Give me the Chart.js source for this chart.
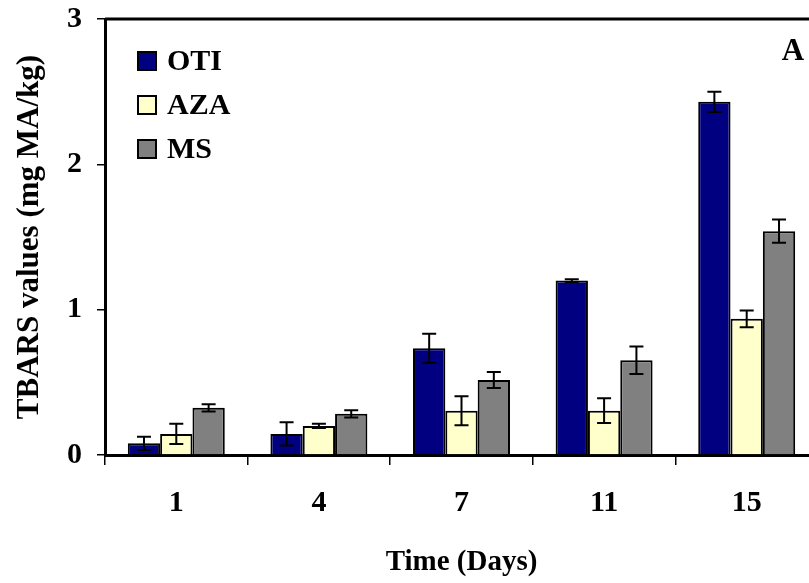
<!DOCTYPE html>
<html>
<head>
<meta charset="utf-8">
<script src="https://cdn.jsdelivr.net/npm/chart.js@4/dist/chart.umd.min.js"></script>
<style>
  html, body { margin: 0; padding: 0; overflow: hidden; background: #fff; }
  #wrap { position: absolute; left: 0; top: 0; width: 830px; height: 583px; }
</style>
</head>
<body>
<div id="wrap"><canvas id="c" width="830" height="583"></canvas></div>
<script>
const categories = ['1', '4', '7', '11', '15'];
const seriesNames = ['OTI', 'AZA', 'MS'];
const otiValues = [0.08, 0.145, 0.735, 1.20, 2.43];
const otiErrors = [0.045, 0.08, 0.10, 0.01, 0.07];
const azaValues = [0.145, 0.20, 0.305, 0.305, 0.937];
const azaErrors = [0.07, 0.015, 0.10, 0.085, 0.058];
const msValues = [0.325, 0.283, 0.516, 0.652, 1.54];
const msErrors = [0.025, 0.025, 0.055, 0.094, 0.08];
const yTicks = [0, 1, 2, 3];

const FONT = "'Liberation Serif', 'Times New Roman', serif";

const errorBars = {
  id: 'errorBars',
  afterDatasetsDraw(chart) {
    const ctx = chart.ctx;
    const y = chart.scales.y;
    ctx.save();
    ctx.strokeStyle = '#000';
    ctx.lineWidth = 2;
    chart.data.datasets.forEach((ds, i) => {
      const meta = chart.getDatasetMeta(i);
      meta.data.forEach((bar, j) => {
        const v = ds.data[j], e = ds.errors[j];
        const yt = y.getPixelForValue(v + e);
        const yb = y.getPixelForValue(v - e);
        const x = bar.x, hw = 7;
        ctx.beginPath();
        ctx.moveTo(x, yt); ctx.lineTo(x, yb);
        ctx.moveTo(x - hw, yt); ctx.lineTo(x + hw, yt);
        ctx.moveTo(x - hw, yb); ctx.lineTo(x + hw, yb);
        ctx.stroke();
      });
    });
    ctx.restore();
  }
};

const frameAndLegend = {
  id: 'frameAndLegend',
  afterDraw(chart) {
    const ctx = chart.ctx;
    const a = chart.chartArea;
    ctx.save();
    ctx.strokeStyle = '#000';
    ctx.lineWidth = 3;
    ctx.beginPath();
    ctx.moveTo(a.left, a.top); ctx.lineTo(a.right, a.top); ctx.lineTo(a.right, a.bottom);
    ctx.stroke();
    // legend
    ctx.font = "bold 30px " + FONT;
    ctx.textBaseline = 'middle';
    ctx.textAlign = 'left';
    chart.data.datasets.forEach((ds, i) => {
      const cy = a.top + 42 + i * 44;
      const bx = a.left + 33;
      ctx.fillStyle = ds.backgroundColor;
      ctx.fillRect(bx, cy - 9, 18, 18);
      ctx.lineWidth = 2;
      ctx.strokeRect(bx, cy - 9, 18, 18);
      ctx.fillStyle = '#000';
      ctx.fillText(ds.label, bx + 29, cy + 1);
    });
    ctx.font = "bold 31px " + FONT;
    ctx.textAlign = 'center';
    ctx.fillText('A', 793, a.top + 33);
    ctx.restore();
  }
};

function noPad(s) { s.paddingTop = 0; s.paddingBottom = 0; s.paddingLeft = 0; s.paddingRight = 0; }

new Chart(document.getElementById('c'), {
  type: 'bar',
  data: {
    labels: categories,
    datasets: [
      { label: seriesNames[0], data: otiValues, errors: otiErrors, backgroundColor: '#000080' },
      { label: seriesNames[1], data: azaValues, errors: azaErrors, backgroundColor: '#FFFFCC' },
      { label: seriesNames[2], data: msValues, errors: msErrors, backgroundColor: '#808080' }
    ].map(d => Object.assign(d, { borderColor: '#000', borderWidth: 2, categoryPercentage: 0.68, barPercentage: 1.0 }))
  },
  options: {
    responsive: false,
    animation: false,
    devicePixelRatio: 1,
    layout: { padding: { top: 19, right: 12, left: 0, bottom: 0 } },
    plugins: { legend: { display: false }, tooltip: { enabled: false } },
    scales: {
      x: {
        afterFit(s) { s.height = 128; noPad(s); },
        grid: { offset: true, drawOnChartArea: false, drawTicks: true, tickLength: 10, color: '#000', lineWidth: 1.5 },
        border: { display: true, color: '#000', width: 3 },
        ticks: { color: '#000', font: { family: FONT, size: 30, weight: 'bold' }, padding: 20 },
        title: { display: true, text: 'Time (Days)', color: '#000', font: { family: FONT, size: 29, weight: 'bold' }, padding: { top: 0, bottom: 3 } }
      },
      y: {
        min: 0, max: 3,
        afterFit(s) { s.width = 105; noPad(s); },
        afterBuildTicks(s) { s.ticks = yTicks.map(v => ({ value: v })); },
        grid: { drawOnChartArea: false, drawTicks: true, tickLength: 8, color: '#000', lineWidth: 1.5 },
        border: { display: true, color: '#000', width: 3 },
        ticks: { color: '#000', font: { family: FONT, size: 30, weight: 'bold' }, padding: 15 },
        title: { display: true, text: 'TBARS values (mg MA/kg)', color: '#000', font: { family: FONT, size: 31, weight: 'bold' }, padding: { top: 11, bottom: 0 } }
      }
    }
  },
  plugins: [errorBars, frameAndLegend]
});
</script>
</body>
</html>
